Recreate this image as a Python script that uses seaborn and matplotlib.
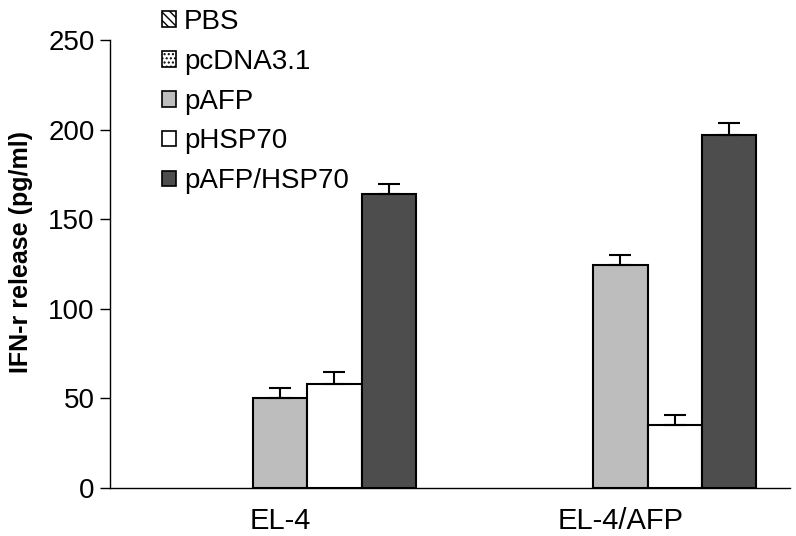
import pandas as pd
import matplotlib.pyplot as plt
import seaborn as sns
from matplotlib.patches import Patch

# cell lines and treatment groups
cells = ['EL-4', 'EL-4/AFP']
groups = ['PBS', 'pcDNA3.1', 'pAFP', 'pHSP70', 'pAFP/HSP70']

# IFN-r release (pg/ml)
el4 = [0, 0, 50, 58, 164]
el4_afp = [0, 0, 124.5, 35, 197]
err_el4 = [0, 0, 6, 6.5, 5.5]
err_el4_afp = [0, 0, 5.5, 6, 6.5]

df = pd.DataFrame({
    'cell': [cells[0]] * 5 + [cells[1]] * 5,
    'group': groups * 2,
    'value': el4 + el4_afp,
    'err': err_el4 + err_el4_afp,
})

sns.set_style('white')
plt.rcParams['font.family'] = ['Liberation Sans', 'DejaVu Sans']
plt.rcParams['text.color'] = 'black'
plt.rcParams['axes.labelcolor'] = 'black'
plt.rcParams['xtick.color'] = 'black'
plt.rcParams['ytick.color'] = 'black'

colors = ['white', 'white', '#bdbdbd', 'white', '#4d4d4d']
hatches = ['\\\\\\\\', '....', '', '', '']

fig = plt.figure(figsize=(7.96, 5.36), dpi=100)
ax = fig.add_axes([0.138, 0.0896, 0.855, 0.8354])

sns.barplot(data=df, x='cell', y='value', hue='group', hue_order=groups,
            palette=colors, edgecolor='black', linewidth=1.5,
            width=0.8, gap=0, ax=ax, legend=False, errorbar=None)

# bars come in hue order: all cells for group 0, then group 1, ...
for i, g in enumerate(groups):
    sub = df[df['group'] == g]
    for j, c in enumerate(cells):
        bar = ax.patches[i * len(cells) + j]
        bar.set_hatch(hatches[i])
        e = sub[sub['cell'] == c]['err'].values[0]
        v = sub[sub['cell'] == c]['value'].values[0]
        if v == 0:
            bar.set_visible(False)
        if e > 0:
            ax.errorbar(bar.get_x() + bar.get_width() / 2, v, yerr=[[0], [e]],
                        fmt='none', ecolor='black', elinewidth=1.5,
                        capsize=8, capthick=1.5)

# legend with hatched patches
handles = [Patch(facecolor=colors[i], edgecolor='black', hatch=hatches[i], linewidth=1.2)
           for i in range(len(groups))]
ax.legend(handles, groups, loc='upper left', bbox_to_anchor=(0.06, 1.095),
          frameon=False, fontsize=20, handlelength=0.5, handleheight=0.5,
          handletextpad=0.3, labelspacing=0.5, borderaxespad=0)

ax.set_ylim(0, 250)
ax.set_xlim(-0.5, 1.5)
ax.set_yticks([0, 50, 100, 150, 200, 250])
ax.tick_params(axis='y', labelsize=20, length=7, width=1, direction='out', left=True, pad=4)
ax.tick_params(axis='x', length=0, pad=14)
for lab in ax.get_xticklabels():
    lab.set_fontfamily(['Liberation Sans Narrow', 'Liberation Sans', 'DejaVu Sans'])
    lab.set_fontsize(21)
ax.set_xticks([-0.5], minor=True)
ax.tick_params(axis='x', which='minor', length=7, width=1, direction='inout')
ax.set_xlabel('')
ax.set_ylabel('IFN-r release (pg/ml)', fontsize=18, fontweight='bold')
ax.yaxis.set_label_coords(-0.113, 0.527)

for s in ['top', 'right']:
    ax.spines[s].set_visible(False)
for s in ['left', 'bottom']:
    ax.spines[s].set_color('black')
    ax.spines[s].set_linewidth(1)

plt.savefig('out.png', dpi=100)
